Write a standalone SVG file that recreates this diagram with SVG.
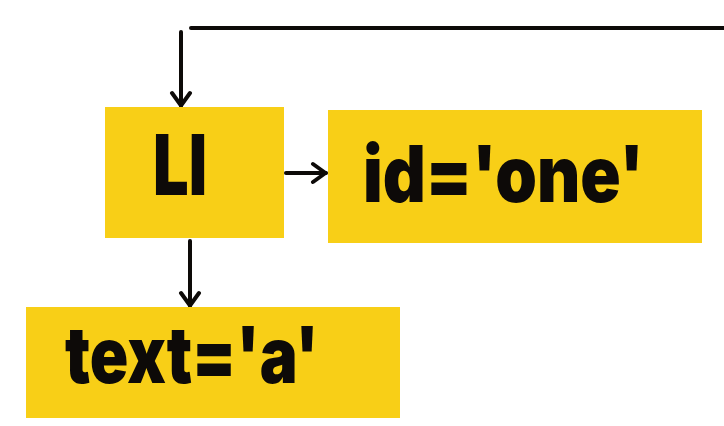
<svg xmlns="http://www.w3.org/2000/svg" width="724" height="426" viewBox="0 0 724 426">
<style>
.box{fill:#F8CF17;}
.lbl{font-family:Inter,"Liberation Sans",sans-serif;font-weight:900;fill:#0D0A08;}
.conn{stroke:#0D0A08;stroke-width:4;fill:none;stroke-linecap:round;}
</style>
<defs>
<marker id="arr" viewBox="0 0 18 24" refX="16" refY="12" markerWidth="18" markerHeight="24" markerUnits="userSpaceOnUse" orient="auto">
<path d="M3,3 L15.5,12 L3,21" fill="none" stroke="#0D0A08" stroke-width="4" stroke-linecap="round" stroke-linejoin="round"/>
</marker>
</defs>
<rect width="724" height="426" fill="#FFFFFF"/>
<g id="connectors">
<path class="conn" d="M191,28 L726,28"/>
<path class="conn" d="M181,32 L181,106" marker-end="url(#arr)"/>
<path class="conn" d="M286,173 L326,173" marker-end="url(#arr)"/>
<path class="conn" d="M190,241 L190,306" marker-end="url(#arr)"/>
</g>
<g id="node-li">
<rect class="box" x="105" y="107" width="179" height="131"/>
<text class="lbl" x="153" y="195" font-size="84" textLength="54" lengthAdjust="spacingAndGlyphs">LI</text>
</g>
<g id="node-id">
<rect class="box" x="328" y="110" width="374" height="133"/>
<text class="lbl" x="363" y="202" font-size="78" textLength="281" lengthAdjust="spacingAndGlyphs">id='one'</text>
</g>
<g id="node-text">
<rect class="box" x="26" y="307" width="374" height="111"/>
<text class="lbl" x="65" y="383" font-size="78" textLength="254" lengthAdjust="spacingAndGlyphs">text='a'</text>
</g>
</svg>
